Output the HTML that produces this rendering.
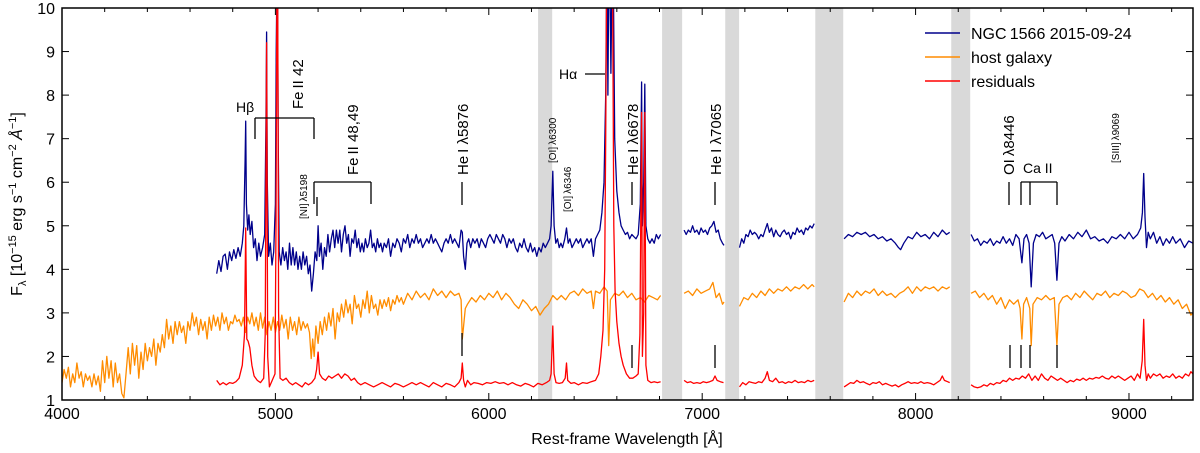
<!DOCTYPE html>
<html><head><meta charset="utf-8"><title>NGC 1566 spectrum</title>
<style>
html,body{margin:0;padding:0;background:#fff;}
svg{display:block;font-family:"Liberation Sans","DejaVu Sans",sans-serif;}
</style></head>
<body>
<svg id="chart" width="1200" height="453" viewBox="0 0 1200 453" xmlns="http://www.w3.org/2000/svg">
<defs><clipPath id="plotclip"><rect x="62" y="8" width="1131" height="392"/></clipPath></defs>
<g id="bands" clip-path="url(#plotclip)"></g>
<g id="series" clip-path="url(#plotclip)"></g>
<g id="annot"></g>
<g id="axes"></g>
<g id="legend"></g>
</svg>
<script>
const xTicks = [4000,5000,6000,7000,8000,9000];
const yTicks = [1,2,3,4,5,6,7,8,9,10];
const bandStart = [6231,6812,7108,7530,8167];
const bandEnd = [6297,6906,7173,7661,8256];
const seriesNames = ["NGC\u20091566 2015-09-24","host galaxy","residuals"];
const seriesColors = ["#00008b","#ff8c00","#ff0000"];
const fluxNGC = [4725,3.9,4735,4.2,4745,3.95,4755,4.3,4765,4.35,4775,4.0,4785,4.4,4795,4.2,4805,4.45,4815,4.25,4825,4.5,4835,4.3,4845,4.6,4852,5.0,4858,6.5,4861,7.4,4864,5.5,4870,4.9,4876,5.25,4882,4.8,4890,5.1,4898,4.5,4906,4.7,4914,4.2,4922,4.6,4930,4.3,4940,4.5,4950,4.8,4956,7.5,4959,9.45,4962,6.0,4968,4.3,4976,4.6,4984,4.1,4992,4.4,5000,5.5,5004,9.0,5007,10.5,5010,10.5,5013,7.0,5018,4.4,5026,4.1,5034,4.5,5042,4.2,5050,4.4,5058,4.0,5066,4.6,5074,4.1,5082,4.5,5090,4.1,5098,4.4,5106,4.0,5114,4.3,5122,4.0,5130,4.4,5138,4.1,5146,4.3,5154,3.9,5162,4.1,5170,3.5,5178,3.9,5186,4.4,5194,4.2,5200,5.0,5206,4.3,5214,4.6,5222,4.0,5230,4.5,5238,4.3,5246,4.8,5254,4.4,5262,4.7,5270,4.9,5278,4.5,5286,4.9,5294,4.6,5302,4.9,5310,4.4,5318,4.8,5326,5.0,5334,4.6,5342,4.8,5350,4.3,5358,4.7,5366,4.6,5374,4.9,5382,4.5,5390,4.7,5398,4.4,5406,4.6,5414,4.4,5422,4.7,5430,4.5,5438,4.6,5446,4.9,5454,4.5,5462,4.6,5470,4.4,5478,4.7,5486,4.5,5494,4.6,5502,4.4,5510,4.6,5520,4.5,5530,4.7,5540,4.3,5550,4.6,5560,4.5,5570,4.7,5580,4.6,5590,4.4,5600,4.7,5610,4.6,5620,4.8,5630,4.5,5640,4.7,5650,4.6,5660,4.8,5670,4.6,5680,4.7,5690,4.5,5700,4.6,5710,4.7,5720,4.6,5730,4.8,5740,4.6,5750,4.7,5760,4.6,5770,4.5,5780,4.4,5790,4.6,5800,4.7,5810,4.6,5820,4.8,5830,4.6,5840,4.7,5850,4.6,5860,4.5,5870,4.9,5876,4.85,5882,4.3,5890,4.0,5898,4.6,5906,4.7,5915,4.5,5925,4.7,5935,4.6,5945,4.7,5955,4.5,5965,4.7,5975,4.6,5985,4.5,5995,4.7,6005,4.8,6015,4.7,6025,4.6,6035,4.8,6045,4.7,6055,4.6,6065,4.8,6075,4.7,6085,4.5,6095,4.7,6105,4.6,6115,4.7,6125,4.5,6135,4.4,6145,4.6,6155,4.5,6165,4.7,6175,4.5,6185,4.4,6195,4.6,6205,4.4,6215,4.5,6225,4.3,6235,4.5,6245,4.4,6255,4.6,6265,4.5,6275,4.6,6285,4.7,6292,5.0,6300,6.25,6306,5.0,6314,4.6,6322,4.7,6330,4.5,6338,4.6,6346,4.5,6356,4.7,6364,4.95,6372,4.6,6380,4.7,6390,4.5,6400,4.6,6410,4.7,6420,4.6,6430,4.7,6440,4.5,6450,4.6,6460,4.7,6470,4.6,6480,4.7,6490,4.3,6500,4.7,6510,4.8,6520,4.9,6530,5.3,6540,6.0,6548,8.0,6552,10.5,6555,10.5,6558,8.0,6562,10.5,6568,10.5,6572,8.5,6577,10.5,6584,10.5,6590,7.0,6600,5.8,6610,5.3,6620,5.0,6630,4.9,6640,4.8,6650,4.85,6660,4.7,6670,4.8,6680,4.75,6690,4.7,6700,4.8,6710,5.5,6716,8.3,6720,5.0,6726,6.0,6731,8.25,6736,5.0,6745,4.7,6755,4.6,6765,4.7,6775,4.6,6785,4.8,6795,4.7,6805,4.8,null,null,
6915,4.9,6925,4.8,6935,4.9,6945,4.85,6955,5.0,6965,4.85,6975,4.9,6985,4.8,6995,4.95,7005,4.85,7015,4.9,7025,4.8,7035,4.95,7045,5.0,7055,5.1,7065,4.85,7075,4.9,7085,4.7,7095,4.6,7102,4.55,null,null,
7175,4.5,7185,4.7,7195,4.6,7205,4.8,7215,4.75,7225,4.9,7235,4.8,7245,4.85,7255,4.8,7265,4.7,7275,4.8,7285,4.75,7295,4.9,7305,5.05,7315,4.85,7325,4.95,7335,4.75,7345,4.9,7355,4.8,7365,4.75,7375,4.85,7385,4.9,7395,4.8,7405,4.85,7415,4.7,7425,4.85,7435,4.8,7445,4.95,7455,4.85,7465,4.9,7475,4.8,7485,4.95,7495,4.9,7505,5.0,7515,4.95,7525,5.05,null,null,
7665,4.7,7685,4.8,7705,4.75,7725,4.85,7745,4.8,7765,4.85,7785,4.75,7805,4.8,7825,4.7,7845,4.75,7865,4.65,7885,4.7,7905,4.6,7920,4.5,7930,4.45,7945,4.6,7965,4.75,7985,4.7,8005,4.85,8025,4.75,8045,4.8,8065,4.7,8085,4.85,8105,4.75,8125,4.9,8145,4.8,8160,4.85,null,null,
8260,4.8,8275,4.65,8290,4.7,8305,4.55,8320,4.65,8335,4.6,8350,4.7,8365,4.55,8380,4.65,8395,4.6,8410,4.75,8425,4.6,8440,4.7,8455,4.55,8470,4.8,8485,4.7,8498,4.15,8508,4.7,8520,4.8,8532,4.6,8542,3.6,8552,4.6,8565,4.8,8580,4.75,8595,4.85,8610,4.7,8625,4.75,8640,4.8,8652,4.6,8662,3.75,8672,4.6,8685,4.75,8700,4.65,8720,4.8,8740,4.7,8760,4.85,8780,4.75,8800,4.9,8820,4.7,8840,4.75,8860,4.65,8880,4.7,8900,4.6,8920,4.75,8940,4.7,8960,4.8,8980,4.7,9000,4.85,9020,4.7,9040,4.8,9055,4.95,9063,5.3,9069,6.2,9075,5.2,9082,4.5,9090,4.85,9100,4.7,9115,4.85,9130,4.6,9145,4.75,9160,4.55,9175,4.7,9190,4.6,9205,4.75,9220,4.6,9240,4.7,9260,4.5,9280,4.65,9300,4.6];
const fluxHost = [4000,1.4,4010,1.7,4020,1.5,4030,1.75,4040,1.3,4050,1.6,4060,1.4,4070,1.85,4080,1.5,4090,1.65,4100,1.3,4110,1.6,4120,1.45,4130,1.55,4140,1.3,4150,1.6,4160,1.35,4170,1.55,4180,1.2,4190,1.9,4200,1.4,4210,2.0,4220,1.5,4230,1.9,4240,1.3,4250,1.85,4260,1.4,4270,1.6,4280,1.15,4290,1.05,4300,1.6,4310,2.2,4320,1.6,4330,2.3,4340,1.8,4350,2.25,4360,1.5,4370,2.1,4380,1.7,4390,2.3,4400,1.9,4410,2.2,4420,2.0,4430,2.4,4440,1.8,4450,2.3,4460,2.1,4470,2.5,4480,2.2,4490,2.85,4500,2.4,4510,2.7,4520,2.3,4530,2.8,4540,2.5,4550,2.8,4560,2.55,4570,2.7,4580,2.3,4590,2.8,4600,2.6,4610,3.0,4620,2.7,4630,2.9,4640,2.5,4650,2.85,4660,2.6,4670,2.8,4680,2.4,4690,2.9,4700,2.6,4710,2.95,4720,2.7,4730,2.9,4740,2.6,4750,3.0,4760,2.75,4770,2.9,4780,2.6,4790,2.8,4800,2.75,4810,2.95,4820,2.8,4830,2.85,4840,2.7,4850,2.9,4860,2.55,4870,2.9,4880,2.75,4890,3.0,4900,2.7,4910,2.9,4920,2.6,4930,3.0,4940,2.65,4950,2.9,4960,2.5,4970,2.8,4980,2.6,4990,2.9,5000,2.55,5010,2.8,5020,2.6,5030,2.95,5040,2.65,5050,2.85,5060,2.4,5070,2.9,5080,2.6,5090,2.8,5100,2.5,5110,2.9,5120,2.6,5130,2.8,5140,2.65,5150,2.75,5160,2.55,5168,1.95,5175,2.4,5182,2.0,5190,2.7,5200,2.3,5210,2.8,5220,2.5,5230,2.9,5240,2.6,5250,3.0,5260,2.7,5270,3.1,5280,2.4,5290,3.0,5300,2.8,5310,3.2,5320,2.9,5330,3.3,5340,3.0,5350,3.2,5360,2.75,5370,3.4,5380,3.1,5390,3.2,5400,2.9,5410,3.3,5420,3.1,5430,3.5,5440,3.0,5450,3.4,5460,3.1,5470,3.2,5480,2.95,5490,3.3,5500,3.1,5510,3.3,5520,3.15,5530,3.35,5540,3.05,5550,3.3,5560,3.2,5570,3.4,5580,3.25,5590,3.35,5600,3.2,5620,3.45,5640,3.3,5660,3.5,5680,3.35,5700,3.45,5720,3.3,5740,3.55,5760,3.4,5780,3.5,5800,3.35,5820,3.5,5840,3.4,5860,3.45,5870,3.3,5876,2.4,5882,2.7,5890,3.1,5900,3.2,5920,3.35,5940,3.25,5960,3.4,5980,3.3,6000,3.45,6020,3.35,6040,3.5,6060,3.3,6080,3.45,6100,3.35,6120,3.2,6140,3.1,6160,3.3,6180,3.2,6200,3.05,6220,3.15,6240,2.95,6260,3.1,6280,3.2,6300,3.4,6320,3.3,6340,3.4,6360,3.3,6380,3.45,6400,3.5,6420,3.4,6440,3.55,6460,3.45,6480,3.5,6490,3.1,6500,3.5,6520,3.45,6540,3.6,6555,3.5,6562,2.25,6570,3.3,6590,3.45,6610,3.4,6630,3.5,6650,3.35,6670,3.45,6690,3.3,6710,3.35,6730,3.25,6750,3.4,6770,3.35,6790,3.3,6805,3.4,null,null,
6915,3.45,6935,3.5,6955,3.4,6975,3.55,6995,3.45,7015,3.5,7035,3.55,7050,3.7,7065,3.35,7080,3.45,7095,3.2,7102,3.25,null,null,
7175,3.15,7195,3.35,7215,3.3,7235,3.45,7255,3.35,7275,3.5,7295,3.4,7315,3.55,7335,3.45,7355,3.55,7375,3.5,7395,3.6,7415,3.5,7435,3.6,7455,3.55,7475,3.65,7495,3.55,7515,3.65,7525,3.6,null,null,
7665,3.25,7685,3.45,7705,3.35,7725,3.5,7745,3.4,7765,3.5,7785,3.45,7805,3.55,7825,3.4,7845,3.5,7865,3.4,7885,3.45,7905,3.35,7925,3.45,7945,3.5,7965,3.6,7985,3.45,8005,3.6,8025,3.5,8045,3.6,8065,3.55,8085,3.6,8105,3.5,8125,3.6,8145,3.55,8160,3.6,null,null,
8260,3.45,8280,3.5,8300,3.35,8320,3.45,8340,3.3,8360,3.4,8380,3.2,8400,3.35,8420,3.1,8440,3.3,8460,3.2,8480,3.3,8490,3.1,8498,2.4,8506,3.2,8520,3.35,8535,3.1,8542,2.25,8550,3.2,8570,3.35,8590,3.3,8610,3.4,8630,3.3,8650,3.35,8662,2.25,8672,3.2,8690,3.35,8710,3.4,8730,3.3,8750,3.45,8770,3.35,8790,3.5,8810,3.4,8830,3.3,8850,3.45,8870,3.4,8890,3.5,8910,3.35,8930,3.45,8950,3.4,8970,3.5,8990,3.45,9010,3.35,9030,3.4,9050,3.55,9070,3.5,9090,3.35,9110,3.45,9130,3.3,9150,3.4,9170,3.25,9190,3.35,9210,3.2,9230,3.3,9250,3.1,9270,3.2,9290,2.95,9300,3.0];
const fluxResid = [4725,1.45,4740,1.35,4755,1.4,4770,1.35,4785,1.4,4800,1.38,4815,1.42,4830,1.5,4845,1.8,4855,2.5,4861,4.95,4866,2.4,4872,2.35,4880,2.2,4890,1.8,4900,1.55,4915,1.45,4930,1.4,4945,1.5,4952,2.5,4959,9.2,4964,2.0,4972,1.3,4985,1.45,4998,1.6,5003,5.0,5007,10.5,5011,10.5,5015,3.0,5022,1.5,5035,1.45,5050,1.5,5065,1.4,5080,1.35,5095,1.4,5110,1.35,5125,1.3,5140,1.4,5155,1.35,5170,1.4,5185,1.5,5193,1.7,5200,2.1,5207,1.6,5220,1.5,5235,1.45,5250,1.55,5265,1.5,5280,1.55,5295,1.6,5310,1.5,5325,1.6,5340,1.55,5355,1.45,5370,1.5,5385,1.4,5400,1.35,5420,1.4,5440,1.35,5460,1.3,5480,1.35,5500,1.4,5520,1.35,5540,1.3,5560,1.38,5580,1.35,5600,1.3,5620,1.35,5640,1.4,5660,1.35,5680,1.4,5700,1.35,5720,1.3,5740,1.4,5760,1.35,5780,1.3,5800,1.38,5820,1.35,5840,1.3,5860,1.4,5870,1.5,5876,1.85,5882,1.45,5890,1.3,5900,1.45,5915,1.35,5930,1.4,5950,1.38,5970,1.35,5990,1.4,6010,1.38,6030,1.42,6050,1.38,6070,1.4,6090,1.35,6110,1.4,6130,1.35,6150,1.32,6170,1.38,6190,1.35,6210,1.3,6230,1.38,6250,1.35,6270,1.4,6285,1.45,6292,1.6,6300,2.7,6306,1.6,6315,1.4,6330,1.38,6345,1.4,6358,1.5,6364,1.85,6370,1.45,6385,1.38,6400,1.4,6420,1.35,6440,1.4,6460,1.38,6480,1.42,6500,1.45,6515,1.6,6525,2.0,6535,2.6,6543,4.0,6548,7.0,6552,10.5,6580,10.5,6586,5.0,6592,3.5,6600,2.8,6610,2.3,6620,2.0,6630,1.8,6645,1.6,6660,1.5,6675,1.5,6690,1.55,6700,1.6,6708,2.5,6716,7.6,6720,2.0,6726,3.0,6731,7.6,6736,1.8,6745,1.45,6760,1.4,6775,1.42,6790,1.4,6805,1.42,null,null,
6915,1.45,6930,1.4,6945,1.42,6960,1.38,6975,1.4,6990,1.38,7005,1.42,7020,1.4,7035,1.42,7050,1.45,7060,1.55,7070,1.45,7085,1.42,7100,1.4,null,null,
7175,1.3,7190,1.4,7205,1.35,7220,1.42,7235,1.4,7250,1.38,7265,1.42,7280,1.4,7295,1.5,7305,1.65,7315,1.45,7330,1.42,7345,1.5,7360,1.4,7375,1.42,7390,1.38,7405,1.42,7420,1.4,7435,1.45,7450,1.4,7465,1.42,7480,1.4,7495,1.45,7510,1.42,7525,1.45,null,null,
7665,1.3,7680,1.35,7695,1.4,7710,1.38,7725,1.45,7740,1.4,7755,1.42,7770,1.38,7785,1.35,7800,1.4,7815,1.38,7830,1.42,7845,1.35,7860,1.38,7875,1.35,7890,1.32,7905,1.35,7920,1.3,7935,1.35,7950,1.38,7965,1.42,7980,1.38,7995,1.4,8010,1.38,8025,1.42,8040,1.38,8055,1.4,8070,1.38,8085,1.35,8100,1.4,8115,1.45,8125,1.55,8135,1.45,8150,1.42,8160,1.4,null,null,
8260,1.35,8275,1.3,8290,1.28,8305,1.3,8320,1.35,8335,1.32,8350,1.38,8365,1.35,8380,1.4,8395,1.38,8410,1.45,8425,1.42,8440,1.5,8455,1.45,8470,1.5,8485,1.48,8500,1.55,8515,1.5,8530,1.6,8545,1.45,8560,1.55,8575,1.45,8590,1.6,8605,1.5,8620,1.45,8635,1.55,8650,1.5,8665,1.45,8680,1.5,8695,1.45,8710,1.4,8725,1.45,8740,1.42,8755,1.48,8770,1.45,8785,1.5,8800,1.45,8815,1.5,8830,1.48,8845,1.52,8860,1.5,8875,1.55,8890,1.5,8905,1.48,8920,1.55,8935,1.5,8950,1.55,8965,1.5,8980,1.45,8995,1.5,9010,1.55,9025,1.45,9040,1.6,9052,1.5,9062,1.9,9069,2.85,9075,1.8,9082,1.45,9090,1.6,9100,1.5,9115,1.6,9130,1.55,9145,1.6,9160,1.5,9175,1.55,9190,1.52,9205,1.6,9220,1.5,9235,1.55,9250,1.5,9265,1.6,9280,1.55,9290,1.65,9300,1.6];

const NS = "http://www.w3.org/2000/svg";
const X0 = 62, X1 = 1193, Y0 = 400, Y1 = 8;
const LMIN = 4000, LMAX = 9300, FMIN = 1, FMAX = 10;
function xScale(l){ return X0 + (l - LMIN) / (LMAX - LMIN) * (X1 - X0); }
function yScale(f){ return Y0 - (f - FMIN) / (FMAX - FMIN) * (Y0 - Y1); }
function mk(tag, attrs, parent){ const e = document.createElementNS(NS, tag); for (const k in attrs) e.setAttribute(k, attrs[k]); parent.appendChild(e); return e; }

const gB = document.getElementById('bands');
for (let i = 0; i < bandStart.length; i++) {
  const r = mk('rect', {x: xScale(bandStart[i]), y: Y1, width: xScale(bandEnd[i]) - xScale(bandStart[i]), height: Y0 - Y1, fill: '#d9d9d9'}, gB);
  
  
}

const gS = document.getElementById('series');
const allSeries = [fluxNGC, fluxHost, fluxResid];
const seriesKeys = ['ngc1566-spectrum', 'host-galaxy-spectrum', 'residuals-spectrum'];
for (let s = 0; s < allSeries.length; s++) {
  const arr = allSeries[s];
  let d = '', pen = 'M';
  for (let i = 0; i < arr.length; i += 2) {
    if (arr[i] === null) { pen = 'M'; continue; }
    d += pen + xScale(arr[i]).toFixed(1) + ',' + yScale(arr[i + 1]).toFixed(1);
    pen = 'L';
  }
  const p = mk('path', {d: d, fill: 'none', stroke: seriesColors[s], 'stroke-width': 1.3, 'stroke-linejoin': 'round'}, gS);
  
  
}

const gA = document.getElementById('axes');
const frame = mk('rect', {x: X0, y: Y1, width: X1 - X0, height: Y0 - Y1, fill: 'none', stroke: '#000', 'stroke-width': 1.5}, gA);


for (let l = LMIN; l <= LMAX; l += 200) {
  const x = xScale(l), len = (l % 1000 === 0) ? 7 : 4;
  mk('line', {x1: x, y1: Y0, x2: x, y2: Y0 - len, stroke: '#000', 'stroke-width': 1}, gA);
  mk('line', {x1: x, y1: Y1, x2: x, y2: Y1 + len, stroke: '#000', 'stroke-width': 1}, gA);
}
xTicks.forEach(function(v){
  const t = mk('text', {x: xScale(v), y: 419, 'font-size': 16, 'text-anchor': 'middle'}, gA);
  t.textContent = v;
  
  
});
yTicks.forEach(function(v){
  const y = yScale(v);
  mk('line', {x1: X0, y1: y, x2: X0 + 7, y2: y, stroke: '#000', 'stroke-width': 1}, gA);
  mk('line', {x1: X1, y1: y, x2: X1 - 7, y2: y, stroke: '#000', 'stroke-width': 1}, gA);
  const t = mk('text', {x: 55, y: y + 6, 'font-size': 16, 'text-anchor': 'end'}, gA);
  t.textContent = v;
  
  
});
const xl = mk('text', {x: 627, y: 444, 'font-size': 16, 'text-anchor': 'middle'}, gA);
xl.textContent = 'Rest-frame Wavelength [\u00C5]';


const yl = mk('text', {x: 0, y: 0, 'font-size': 16, 'text-anchor': 'middle', transform: 'translate(22,204) rotate(-90)'}, gA);
yl.innerHTML = 'F<tspan font-size="11" dy="4">\u03BB</tspan><tspan dy="-4"> [10</tspan><tspan font-size="11" dy="-6">\u221215</tspan><tspan dy="6"> erg s</tspan><tspan font-size="11" dy="-6">\u22121</tspan><tspan dy="6"> cm</tspan><tspan font-size="11" dy="-6">\u22122</tspan><tspan dy="6" font-style="italic"> \u00C5</tspan><tspan font-size="11" dy="-6">\u22121</tspan><tspan dy="6">]</tspan>';



const gN = document.getElementById('annot');
function seg(x1, y1, x2, y2){ const l = mk('line', {x1: x1, y1: y1, x2: x2, y2: y2, stroke: '#000', 'stroke-width': 1.3}, gN);   }
function rtext(x, y, s, size, name){ const t = mk('text', {x: 0, y: 0, 'font-size': size, transform: 'translate(' + x + ',' + y + ') rotate(-90)'}, gN); t.textContent = s;   return t; }
function htext(x, y, s, size, name){ const t = mk('text', {x: x, y: y, 'font-size': size}, gN); t.textContent = s;   return t; }
htext(236, 112, 'H\u03B2', 14, 'hbeta-label');
seg(255, 118, 314, 118); seg(255, 118, 255, 139); seg(314, 118, 314, 139);
rtext(303, 109, 'Fe\u2009II 42', 15, 'feii-42-label');
rtext(307, 219, '[NI]\u2009\u03BB5198', 10, 'ni-5198-label');
seg(317, 197, 317, 216);
seg(314, 182, 371, 182); seg(314, 182, 314, 204); seg(371, 182, 371, 204);
rtext(358, 175, 'Fe\u2009II 48,49', 15, 'feii-4849-label');
rtext(468, 175, 'He\u2009I \u03BB5876', 15, 'hei-5876-label');
seg(462, 182, 462, 205); seg(462, 333, 462, 356);
rtext(556, 163, '[OI]\u2009\u03BB6300', 10, 'oi-6300-label');
rtext(571, 212, '[OI]\u2009\u03BB6346', 10, 'oi-6346-label');
htext(559, 79, 'H\u03B1', 14, 'halpha-label');
seg(585, 74, 605, 74);
rtext(638, 175, 'He\u2009I \u03BB6678', 15, 'hei-6678-label');
seg(632, 182, 632, 205); seg(632, 345, 632, 368);
rtext(721, 175, 'He\u2009I \u03BB7065', 15, 'hei-7065-label');
seg(715, 182, 715, 205); seg(715, 345, 715, 368);
rtext(1014, 175, 'OI\u2009\u03BB8446', 15, 'oi-8446-label');
seg(1009, 182, 1009, 205);
htext(1023, 173, 'Ca II', 14, 'caii-label');
seg(1021, 182, 1057, 182); seg(1021, 182, 1021, 205); seg(1030, 182, 1030, 205); seg(1057, 182, 1057, 205);
seg(1010, 345, 1010, 368); seg(1021, 345, 1021, 368); seg(1030, 345, 1030, 368); seg(1057, 345, 1057, 368);
rtext(1119, 163, '[SIII]\u2009\u03BB9069', 10, 'siii-9069-label');

const gL = document.getElementById('legend');
for (let i = 0; i < seriesNames.length; i++) {
  const y = 33 + i * 24;
  const g = mk('g', {}, gL);
  
  
  mk('line', {x1: 925, y1: y, x2: 960, y2: y, stroke: seriesColors[i], 'stroke-width': 1.5}, g);
  const t = mk('text', {x: 971, y: y + 6, 'font-size': 16}, g);
  t.textContent = seriesNames[i];
}
</script>
</body></html>
